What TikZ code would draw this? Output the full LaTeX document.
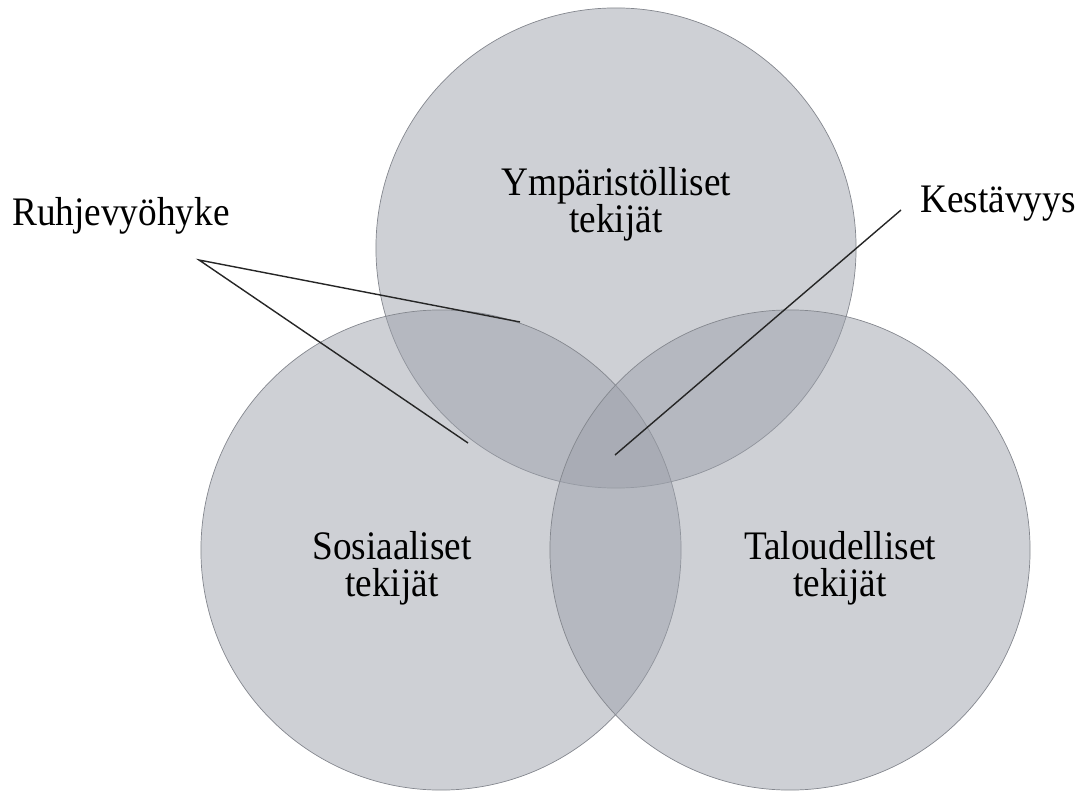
\documentclass[tikz,border=0pt]{standalone}
\usepackage{fontspec}
\setmainfont{Liberation Serif}
\newfontfamily\lblfont{Liberation Serif}[FakeStretch=0.92]
\usepackage{xcolor}
\usepackage{tikz}
\usetikzlibrary{shapes.geometric, positioning, calc}

\definecolor{venngray}{RGB}{157,161,171}
\definecolor{vennline}{RGB}{132,135,142}

\begin{document}
\begin{tikzpicture}[
    x=0.025cm, y=-0.025cm,
    venn/.style={circle, draw=vennline, line width=0.5pt, fill=venngray, fill opacity=0.5, minimum size=12cm, inner sep=0pt},
    lbl/.style={font=\lblfont\fontsize{28.8}{26.3}\selectfont, align=center, inner sep=0pt},
    edge/.style={draw=black!85, line width=1pt}
]
    \useasboundingbox (0,0) rectangle (1084,793);

    % the three circles
    \node[venn] (env) at (616,248) {};
    \node[venn] (soc) at (441,550) {};
    \node[venn] (eco) at (790,550) {};

    \node[lbl] (envtxt) at (616,204) {Ympäristölliset\\tekijät};
    \node[lbl] (soctxt) at (392,568) {Sosiaaliset\\tekijät};
    \node[lbl] (ecotxt) at (840,568) {Taloudelliset\\tekijät};

    % callouts
    \node[lbl, anchor=base west] (ruhje) at (12,226) {Ruhjevyöhyke};
    \node[lbl, anchor=base east] (kesta) at (1076,213) {Kestävyys};

    \coordinate (rtip) at (199,260);
    \coordinate (rlens1) at (520,322);
    \coordinate (rlens2) at (468,443);
    \coordinate (ktip) at (901,210);
    \coordinate (kcore) at (615,455);

    \draw[edge] (rlens1) -- (rtip) -- (rlens2);
    \draw[edge] (ktip) -- (kcore);

\end{tikzpicture}
\end{document}
